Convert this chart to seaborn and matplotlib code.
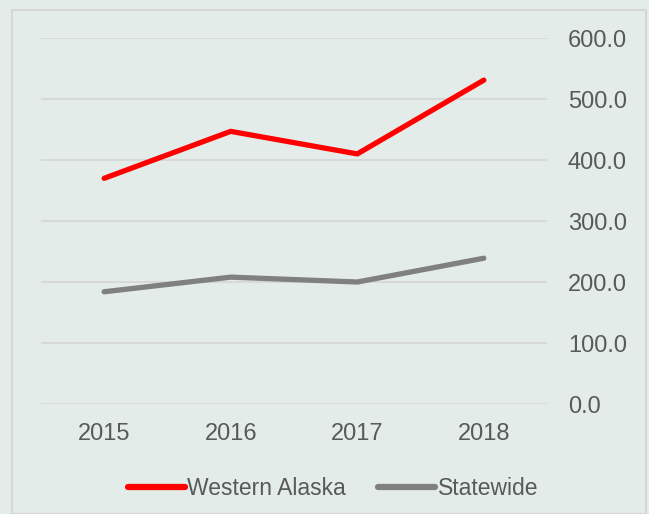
import matplotlib
matplotlib.use("Agg")
import matplotlib.pyplot as plt
import matplotlib.patches as mpatches
import pandas as pd
import seaborn as sns

years = ["2015", "2016", "2017", "2018"]
western_alaska = [370.0, 447.0, 410.0, 531.0]
statewide = [184.0, 208.0, 200.0, 239.0]

BG = "#E3ECE8"
TXT = "#595959"

sns.set_theme(style="white")
plt.rcParams["font.family"] = ["Liberation Sans", "DejaVu Sans"]

df = pd.DataFrame({
    "year": years * 2,
    "value": western_alaska + statewide,
    "series": ["Western Alaska"] * 4 + ["Statewide"] * 4,
})

fig = plt.figure(figsize=(6.49, 5.14), dpi=100, facecolor=BG)
ax = fig.add_axes([0.063, 0.214, 0.780, 0.712])
ax.set_facecolor(BG)

# outer frame
fig.patches.append(mpatches.Rectangle((12 / 649, 0), 634 / 649, 504 / 514,
                                      transform=fig.transFigure, fill=False,
                                      edgecolor="#D6D6D6", linewidth=1.5))

sns.lineplot(data=df, x="year", y="value", hue="series",
             palette={"Western Alaska": "#FF0000", "Statewide": "#808080"},
             linewidth=3.8, ax=ax, sort=False, solid_capstyle="round")

ax.set_xlim(-0.5, 3.5)
ax.set_ylim(0, 600)
ax.set_yticks(range(0, 700, 100))
ax.set_yticklabels([f"{v:.1f}" for v in range(0, 700, 100)])
ax.yaxis.tick_right()
ax.grid(axis="y", color="#D6D6D6", linewidth=1.3)
ax.set_axisbelow(True)
for s in ax.spines.values():
    s.set_visible(False)
ax.tick_params(axis="both", length=0, labelsize=17, colors=TXT)
ax.tick_params(axis="x", pad=14)
ax.tick_params(axis="y", pad=15)
for lbl in ax.get_yticklabels():
    lbl.set_horizontalalignment("left")
ax.set_xlabel("")
ax.set_ylabel("")

leg = ax.legend(loc="center", bbox_to_anchor=(0.577, -0.23), ncol=2, frameon=False,
                fontsize=16.5, handlelength=2.5, handletextpad=0.1, columnspacing=1.4)
for line in leg.get_lines():
    line.set_linewidth(4.5)
for t in leg.get_texts():
    t.set_color(TXT)

fig.savefig("out.png", dpi=100, facecolor=BG)
